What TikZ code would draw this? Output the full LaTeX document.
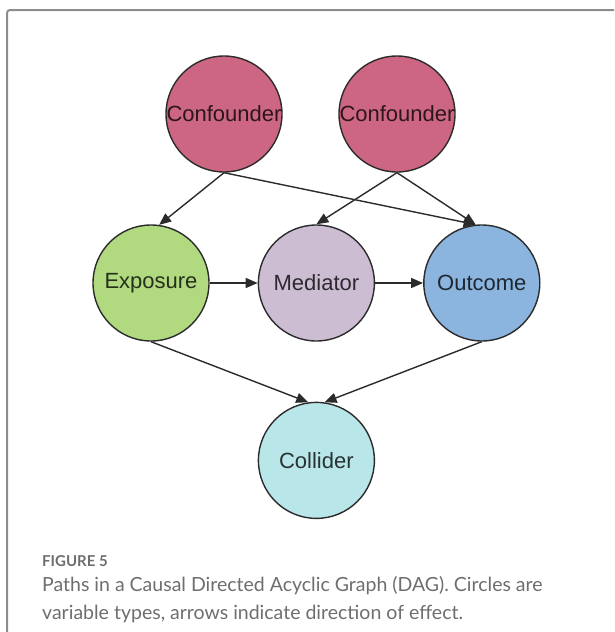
\documentclass[tikz,border=0pt]{standalone}
\usepackage{fontspec}
\setmainfont{Liberation Sans}
\newfontfamily\capfont{Lato}
\usetikzlibrary{arrows.meta,positioning}

\definecolor{confcol}{HTML}{CC6682}
\definecolor{expcol}{HTML}{B0D980}
\definecolor{medcol}{HTML}{CDBDD3}
\definecolor{outcol}{HTML}{8BB5DF}
\definecolor{collcol}{HTML}{B9E6E8}
\definecolor{edgecol}{HTML}{2B2B2B}
\definecolor{framecol}{HTML}{8C8C8C}
\definecolor{captcol}{HTML}{6E6E6E}

\begin{document}
\begin{tikzpicture}[
    x=1pt, y=-1pt,
    var/.style={circle, draw=edgecol, line width=1.4pt, minimum size=116pt, inner sep=0pt,
                font=\fontsize{22}{24}\selectfont, text=black, text opacity=0.78},
    arrow/.style={-{Triangle[length=12pt, width=10pt]}, edgecol, line width=1.4pt},
    capt/.style={anchor=north west, inner sep=0pt, align=left, text=captcol}
]
\useasboundingbox (0,0) rectangle (614,632);
\clip (0,0) rectangle (614,632);

% Frame round the figure
\draw[framecol, line width=2pt, rounded corners=3pt] (7,10) rectangle (650,680);

% Top row: confounders
\node[var, fill=confcol] (conf1) at (224,114) {Confounder};
\node[var, fill=confcol] (conf2) at (397,114) {Confounder};

% Middle row
\node[var, fill=expcol] (exp) at (151,283) {Exposure};
\node[var, fill=medcol, right=48pt of exp] (med) {Mediator};
\node[var, fill=outcol, right=48pt of med] (out) {Outcome};

% Bottom: collider
\node[var, fill=collcol, below=60pt of med] (coll) {Collider};

% Arrows from confounders
\draw[arrow] (conf1.south) -- (exp.82);
\draw[arrow] (conf1.south) -- (out.96);
\draw[arrow] (conf2.south) -- (med.north);
\draw[arrow] (conf2.south) -- (out.96);

% Causal chain
\draw[arrow] (exp) -- (med);
\draw[arrow] (med) -- (out);

% Into the collider
\draw[arrow] (exp.south) -- (coll.98);
\draw[arrow] (out.south) -- (coll.82);

% Caption
\node[anchor=base west, inner sep=0pt, text=captcol, font=\capfont\bfseries\fontsize{15}{17}\selectfont] (figlabel) at (42,566) {FIGURE 5};
\node[capt, font=\capfont\fontsize{19.5}{27.5}\selectfont, below=10pt of figlabel.south west, anchor=north west] (caption)
    {Paths in a Causal Directed Acyclic Graph (DAG). Circles are\\variable types, arrows indicate direction of effect.};

\end{tikzpicture}
\end{document}
